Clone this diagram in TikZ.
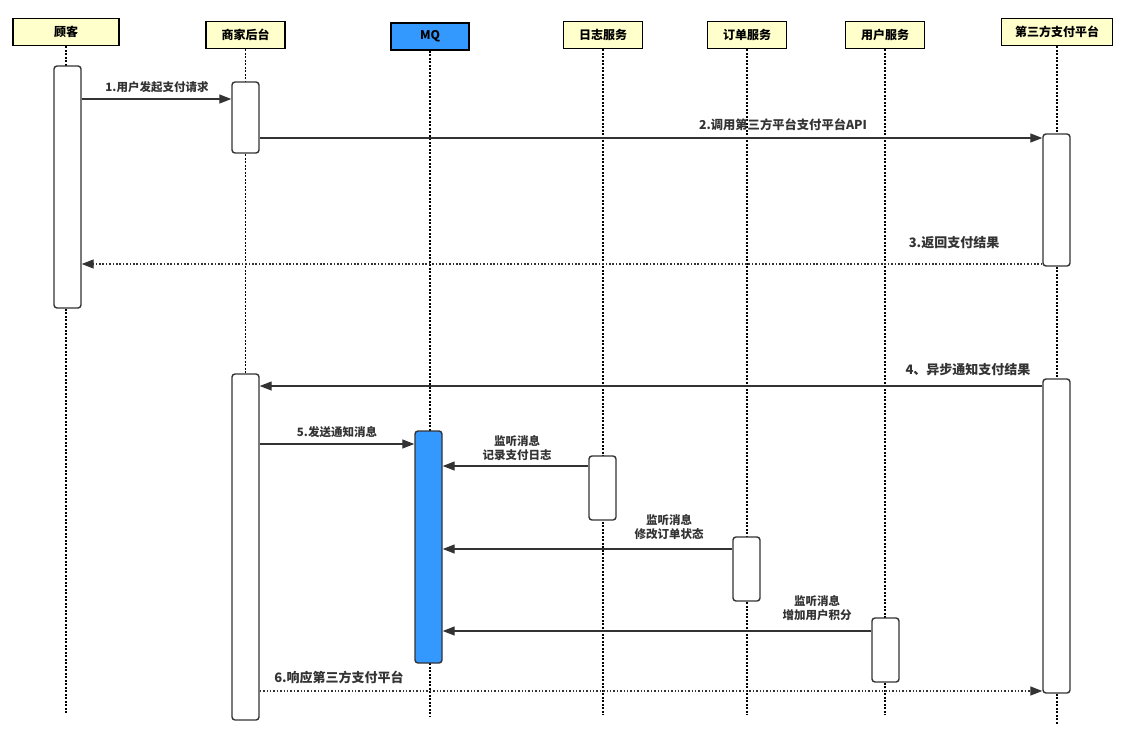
\documentclass[tikz,border=0pt]{standalone}
\usepackage{fontspec}
\setmainfont{Noto Sans CJK SC}
\usetikzlibrary{arrows.meta}
\definecolor{hdr}{HTML}{FFFFCC}
\definecolor{mqblue}{HTML}{3399FF}
\definecolor{ln}{HTML}{333333}
\begin{document}
\begin{tikzpicture}[x=1pt,y=-1pt,
 head/.style={draw=black, line width=1.8pt, fill=hdr, minimum height=27pt, inner sep=0pt, font=\bfseries\fontsize{12}{13}\selectfont},
 bar/.style={draw=ln, line width=1.4pt, fill=white, rounded corners=3pt, minimum width=27pt, inner sep=0pt},
 life/.style={line width=1.7pt, dash pattern=on 1.6pt off 1.9pt, black},
 msg/.style={draw=ln, line width=1.3pt, -{Triangle[length=12pt,width=9pt]}},
 ret/.style={msg, dash pattern=on 1.5pt off 1.9pt},
 lab/.style={text=ln, font=\bfseries\fontsize{11.5}{14}\selectfont, inner sep=0pt, align=center},
 labb/.style={lab, font=\bfseries\fontsize{13}{15}\selectfont}
]
\useasboundingbox (0,0) rectangle (1122,739);
% headers
\node[head, minimum width=106pt] (hC) at (66,32) {顾客};
\node[head, minimum width=79pt] (hS) at (245.5,35) {商家后台};
\node[head, minimum width=78pt, fill=mqblue] (hM) at (430,36.5) {MQ};
\node[head, minimum width=79pt] (hL) at (603,35) {日志服务};
\node[head, minimum width=79pt] (hO) at (747,35) {订单服务};
\node[head, minimum width=79pt] (hU) at (885,35) {用户服务};
\node[head, minimum width=111pt] (hT) at (1057,32) {第三方支付平台};
% lifeline ends
\coordinate (eC) at (66,713);
\coordinate (eS) at (245.5,719);
\coordinate (eM) at (430,716);
\coordinate (eL) at (603,715);
\coordinate (eO) at (747,715);
\coordinate (eU) at (885,715);
\coordinate (eT) at (1057,724);
\draw[life] (hC.south) -- (eC);
\draw[life] (hS.south) -- (eS);
\draw[life] (hM.south) -- (eM);
\draw[life] (hL.south) -- (eL);
\draw[life] (hO.south) -- (eO);
\draw[life] (hU.south) -- (eU);
\draw[life] (hT.south) -- (eT);
% activation bars
\node[bar, minimum height=242pt] (bC) at (67.5,187) {};
\node[bar, minimum height=71pt] (bS1) at (245.5,117.5) {};
\node[bar, minimum height=132pt] (bT1) at (1056.5,200) {};
\node[bar, minimum height=346pt] (bS2) at (245.5,547) {};
\node[bar, minimum height=314pt] (bT2) at (1056.5,536) {};
\node[bar, minimum height=232pt, fill=mqblue] (bM) at (428.5,547) {};
\node[bar, minimum height=64pt] (bL) at (602.5,488) {};
\node[bar, minimum height=64pt] (bO) at (746.5,569) {};
\node[bar, minimum height=64pt] (bU) at (885.5,650) {};
% messages
\draw[msg] (bC.east |- 0,99) -- (bS1.west |- 0,99);
\node[lab] (l1) at (157,87) {1.用户发起支付请求};
\draw[msg] (bS1.east |- 0,138) -- (bT1.west |- 0,138);
\node[lab, font=\bfseries\fontsize{12.3}{15}\selectfont] (l2) at (783,124.5) {2.调用第三方平台支付平台API};
\draw[ret] (bT1.west |- 0,264) -- (bC.east |- 0,264);
\node[labb] (l3) at (954,243) {3.返回支付结果};
\draw[msg] (bT2.west |- 0,386) -- (bS2.east |- 0,386);
\node[labb] (l4) at (968,370) {4、异步通知支付结果};
\draw[msg] (bS2.east |- 0,444) -- (bM.west |- 0,444);
\node[lab] (l5) at (337,432) {5.发送通知消息};
\draw[msg] (bL.west |- 0,466) -- (bM.east |- 0,466);
\node[lab] (l6) at (517,448.5) {监听消息\\记录支付日志};
\draw[msg] (bO.west |- 0,549) -- (bM.east |- 0,549);
\node[lab] (l7) at (669,527.5) {监听消息\\修改订单状态};
\draw[msg] (bU.west |- 0,631) -- (bM.east |- 0,631);
\node[lab] (l8) at (817,608.5) {监听消息\\增加用户积分};
\draw[ret] (bS2.east |- 0,691) -- (bT2.west |- 0,691);
\node[labb] (l9) at (339,677) {6.响应第三方支付平台};
\end{tikzpicture}
\end{document}
